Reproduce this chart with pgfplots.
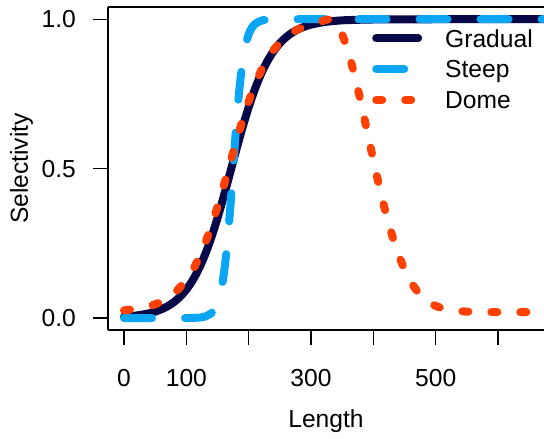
\documentclass[border=0pt]{standalone}
\usepackage{fontspec}
\setmainfont{Liberation Sans}
\usepackage{pgfplots}
\pgfplotsset{compat=1.18}
\definecolor{gradcol}{RGB}{8,8,72}
\definecolor{steepcol}{RGB}{10,166,245}
\definecolor{domecol}{RGB}{255,64,0}
\newcommand{\bigfont}{\fontsize{24.6bp}{28bp}\selectfont}

\begin{document}
\begin{tikzpicture}[font=\bigfont]
\begin{axis}[
    name=ax, at={(0,0)}, anchor=south west,
    width=436bp, height=323bp, scale only axis,
    xmin=-25.7, xmax=673.8, ymin=-0.04, ymax=1.041,
    axis x line*=bottom, axis y line*=left,
    axis line style={line width=1.3bp, -},
    every tick/.style={line width=1.3bp, black},
    tick align=outside, major tick length=15bp,
    xtick={0,100,200,300,400,500,600},
    xticklabels={0,100,,300,,500,},
    ytick={0,0.5,1}, yticklabels={0.0,0.5,1.0},
    tick label style={font=\bigfont, inner sep=0pt},
    xticklabel style={anchor=north}, xticklabel shift=24bp,
    yticklabel style={anchor=east}, yticklabel shift=17bp,
    xlabel={Length}, ylabel={Selectivity},
    label style={font=\bigfont, inner sep=0pt},
    xlabel style={at={(rel axis cs:0.5,-0.2817)}, anchor=center},
    ylabel style={at={(rel axis cs:-0.1984,0.5)}, anchor=center},
    legend cell align=left,
    legend style={at={(rel axis cs:0.606,0.930)}, anchor=north west,
        draw=none, fill=none, inner sep=0pt, outer sep=0pt,
        row sep=13.3bp, font=\bigfont,
        nodes={inner sep=0pt, text height=17.4bp, text depth=0bp},
        /tikz/every odd column/.append style={column sep=23bp}},
    legend image code/.code={\draw[#1] (0bp,0bp) -- (42bp,0bp);},
    every axis plot/.append style={line width=8bp, line cap=round, line join=round},
]
% gradual
\addplot[gradcol, smooth] coordinates {
(0,0.0046)(10,0.0063)(20,0.0086)(30,0.0117)(40,0.0159)(50,0.0216)(60,0.0293)
(70,0.0396)(80,0.0534)(90,0.0716)(100,0.0953)(110,0.1259)(120,0.1645)(130,0.2121)
(140,0.2689)(150,0.3346)(160,0.4073)(170,0.4844)(180,0.5622)(190,0.6370)(200,0.7058)
(210,0.7663)(220,0.8176)(230,0.8597)(240,0.8933)(250,0.9196)(260,0.9399)(270,0.9553)
(280,0.9669)(290,0.9756)(300,0.9820)(320,0.9903)(340,0.9948)(360,0.9972)(400,0.9992)
(450,0.9998)(500,1)(600,1)(680,1)
};
% steep
\addplot[steepcol, smooth, dash pattern=on 28bp off 33bp] coordinates {
(0,0)(50,0)(100,0)(120,0.0015)(130,0.005)(140,0.016)(145,0.0285)(150,0.050)
(155,0.087)(160,0.146)(165,0.236)(170,0.357)(175,0.5)(180,0.643)(185,0.764)
(190,0.854)(195,0.913)(200,0.950)(205,0.9715)(210,0.984)(220,0.995)(230,0.9985)
(250,1)(300,1)(400,1)(500,1)(600,1)(680,1)
};
% dome
\addplot[domecol, smooth, dash pattern=on 6bp off 23bp] coordinates {
(0,0.0258)(20,0.0306)(40,0.0392)(60,0.0548)(80,0.0819)(100,0.128)(110,0.160)
(120,0.201)(130,0.250)(140,0.307)(150,0.373)(160,0.443)(170,0.517)(180,0.591)
(190,0.661)(200,0.725)(210,0.780)(220,0.828)(230,0.867)(240,0.898)(260,0.941)
(280,0.967)(300,0.982)(310,0.989)(320,0.995)(330,1.0)(340,0.987)(350,0.949)
(360,0.889)(370,0.811)(380,0.722)(390,0.626)(400,0.529)(410,0.436)(420,0.352)
(430,0.278)(440,0.214)(450,0.163)(460,0.122)(470,0.091)(480,0.068)(490,0.052)
(500,0.0406)(520,0.0278)(550,0.0215)(600,0.02)(680,0.02)
};
\legend{Gradual,Steep,Dome}
\end{axis}
\draw[line width=1.3bp] (ax.north west) -- (ax.north east);
\pgfresetboundingbox
\path[use as bounding box] (-108bp,-109bp) rectangle (436bp,330bp);
\end{tikzpicture}
\end{document}
